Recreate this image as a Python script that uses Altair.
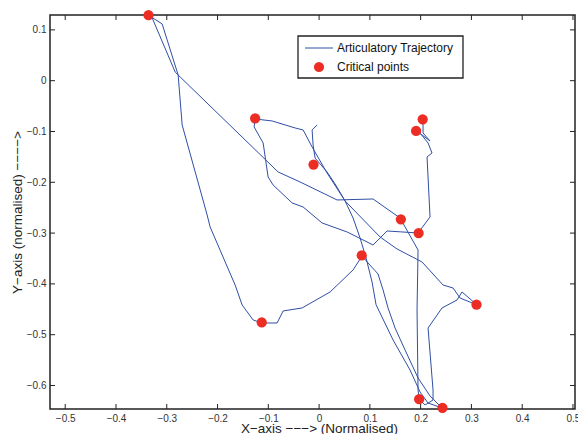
import altair as alt
import pandas as pd

# ---- data ----
traj_x = [-0.0039, -0.0138, -0.0118, -0.0079, 0.0157, 0.0315, 0.0512, 0.0669, 0.0807, 0.0925,
          0.1043, 0.1122, 0.1457, 0.1791, 0.1988, 0.2146, 0.2421, 0.2185, 0.1949, 0.1693,
          0.1496, 0.1358, 0.1260, 0.1161, 0.0965, 0.0846, 0.0669, 0.0217, -0.0335, -0.0709,
          -0.0827, -0.1122, -0.1299, -0.1516, -0.1654, -0.2146, -0.2205, -0.2697, -0.2776, -0.3091,
          -0.3366, -0.3287, -0.2835, -0.2736, -0.0807, -0.0374, 0.0354, 0.1063, 0.1594, 0.1949,
          0.1929, 0.1949, 0.1969, 0.2087, 0.2244, 0.2244, 0.2146, 0.2421, 0.2717, 0.2815,
          0.3110, 0.2776, 0.2638, 0.2441, 0.2028, 0.1535, 0.1201, 0.0512, 0.0157, -0.0138,
          -0.0315, -0.0472, -0.0925, -0.1260, -0.1280, -0.1102, -0.1004, -0.0906, -0.0531, -0.0315,
          0.0059, 0.0551, 0.1063, 0.1339, 0.1949, 0.2185, 0.2126, 0.2224, 0.2146, 0.1988,
          0.1909, 0.2028, 0.2185, 0.2047, 0.2047]
traj_y = [-0.0872, -0.0970, -0.1266, -0.1522, -0.1797, -0.2033, -0.2368, -0.2703, -0.3096, -0.3490,
          -0.3963, -0.4411, -0.5104, -0.5695, -0.6128, -0.6345, -0.6443, -0.6207, -0.5852, -0.5301,
          -0.4868, -0.4474, -0.4120, -0.3805, -0.3589, -0.3451, -0.3726, -0.4159, -0.4474, -0.4533,
          -0.4770, -0.4770, -0.4711, -0.4415, -0.4022, -0.2880, -0.2644, -0.0872, 0.0112, 0.1116,
          0.1293, 0.1234, 0.0171, 0.0073, -0.1797, -0.1994, -0.2348, -0.2329, -0.2703, -0.3333,
          -0.4514, -0.6089, -0.6266, -0.6384, -0.6286, -0.6089, -0.4868, -0.4474, -0.4317, -0.4159,
          -0.4415, -0.4278, -0.4081, -0.4022, -0.3569, -0.3313, -0.3077, -0.2368, -0.1817, -0.1305,
          -0.0970, -0.0931, -0.0793, -0.0754, -0.0911, -0.1226, -0.1896, -0.2053, -0.2407, -0.2486,
          -0.2801, -0.2978, -0.3234, -0.2959, -0.2998, -0.2683, -0.1502, -0.1423, -0.1226, -0.1030,
          -0.0990, -0.1069, -0.1187, -0.1030, -0.0774]

crit_x = [-0.336, -0.126, -0.011, 0.204, 0.191, 0.161, 0.196, 0.084, 0.310, -0.113, 0.197, 0.243]
crit_y = [0.129, -0.074, -0.165, -0.076, -0.099, -0.273, -0.300, -0.344, -0.441, -0.476, -0.627, -0.644]

x_ticks = [-0.5, -0.4, -0.3, -0.2, -0.1, 0.0, 0.1, 0.2, 0.3, 0.4, 0.5]
y_ticks = [-0.6, -0.5, -0.4, -0.3, -0.2, -0.1, 0.0, 0.1]
legend_labels = ["Articulatory Trajectory", "Critical points"]

x_title = "X\u2212axis \u2212\u2212\u2212> (Normalised)"
y_title = "Y\u2212axis (normalised) \u2212\u2212\u2212\u2212>"

# ---- styling ----
W, H = 525, 394
BLUE = "#2f4fa6"
RED = "#ec2d24"
DARK = "#222222"
FONT = "Liberation Sans"

xs = alt.Scale(domain=[-0.53, 0.504], nice=False, zero=False)
ys = alt.Scale(domain=[-0.6463, 0.1293], nice=False, zero=False)

traj = pd.DataFrame({"x": traj_x, "y": traj_y, "order": list(range(len(traj_x)))})
crit = pd.DataFrame({"x": crit_x, "y": crit_y})

x_axis = alt.Axis(values=x_ticks, format=".1~f", ticks=False, domain=False, grid=False,
                  labelFontSize=10, labelColor="#333333", labelPadding=4, labelFont=FONT,
                  title=x_title, titleFont=FONT, titleFontSize=13.5, titleFontWeight="normal",
                  titleColor=DARK, titleX=269, titleY=12.5, titleBaseline="top", titleAlign="center")
y_axis = alt.Axis(values=y_ticks, format=".1~f", ticks=False, domain=False, grid=False,
                  labelFontSize=10, labelColor="#333333", labelPadding=4, labelFont=FONT,
                  title=y_title, titleFont=FONT, titleFontSize=13.5, titleFontWeight="normal",
                  titleColor=DARK, titleX=-33, titleY=197, titleAngle=270,
                  titleBaseline="middle", titleAlign="center")

line = alt.Chart(traj).mark_line(color=BLUE, strokeWidth=1).encode(
    x=alt.X("x:Q", scale=xs, axis=x_axis),
    y=alt.Y("y:Q", scale=ys, axis=y_axis),
    order="order:Q",
)

points = alt.Chart(crit).mark_point(filled=True, color=RED, size=105, opacity=1).encode(
    x=alt.X("x:Q", scale=xs),
    y=alt.Y("y:Q", scale=ys),
)

xt = pd.DataFrame({"x": x_ticks})
yt = pd.DataFrame({"y": y_ticks})
tick_style = dict(color=DARK, strokeWidth=1)
top_ticks = alt.Chart(xt).mark_rule(**tick_style).encode(
    x=alt.X("x:Q", scale=xs), y=alt.value(0), y2=alt.value(5))
bot_ticks = alt.Chart(xt).mark_rule(**tick_style).encode(
    x=alt.X("x:Q", scale=xs), y=alt.value(H - 5), y2=alt.value(H))
left_ticks = alt.Chart(yt).mark_rule(**tick_style).encode(
    y=alt.Y("y:Q", scale=ys), x=alt.value(0), x2=alt.value(5))
right_ticks = alt.Chart(yt).mark_rule(**tick_style).encode(
    y=alt.Y("y:Q", scale=ys), x=alt.value(W - 5), x2=alt.value(W))

# ---- legend box (drawn by hand, like MATLAB's) ----
one = pd.DataFrame({"k": [0]})
leg_box = alt.Chart(one).mark_rect(fill="white", stroke=DARK, strokeWidth=1.3).encode(
    x=alt.value(248), x2=alt.value(413), y=alt.value(21), y2=alt.value(63))
leg_line = alt.Chart(one).mark_rule(color=BLUE, strokeWidth=1).encode(
    x=alt.value(255), x2=alt.value(283), y=alt.value(33))
leg_dot = alt.Chart(one).mark_point(filled=True, color=RED, size=105, opacity=1).encode(
    x=alt.value(269), y=alt.value(52))
leg_t1 = alt.Chart(pd.DataFrame({"label": [legend_labels[0]]})).mark_text(
    align="left", baseline="middle", font=FONT, fontSize=12, color="#111111").encode(
    x=alt.value(287), y=alt.value(33), text="label:N")
leg_t2 = alt.Chart(pd.DataFrame({"label": [legend_labels[1]]})).mark_text(
    align="left", baseline="middle", font=FONT, fontSize=12, color="#111111").encode(
    x=alt.value(287), y=alt.value(52), text="label:N")

chart = alt.layer(
    line, points, top_ticks, bot_ticks, left_ticks, right_ticks,
    leg_box, leg_line, leg_dot, leg_t1, leg_t2,
).properties(
    width=W, height=H,
    autosize=alt.AutoSizeParams(type="none"),
    padding={"left": 50, "top": 15, "right": 3, "bottom": 25},
    background="white",
).configure_view(
    stroke=DARK, strokeWidth=1.5,
)

chart.save("out.html", embed_options={"renderer": "svg", "actions": False})
